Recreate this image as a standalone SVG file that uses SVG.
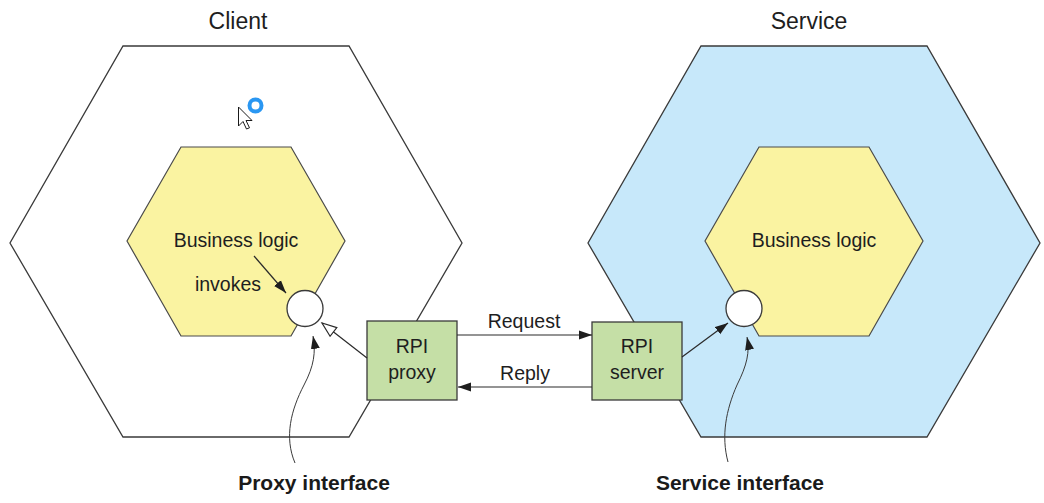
<svg xmlns="http://www.w3.org/2000/svg" width="1044" height="503" viewBox="0 0 1044 503">
  <style>
    .hex { stroke: #3a3a3a; stroke-width: 1.3; stroke-linejoin: miter; }
    .outer-client { fill: #ffffff; }
    .outer-service { fill: #c7e8fa; }
    .core { fill: #faf3a1; stroke: #4a4a4a; stroke-width: 1.2; }
    .port { fill: #ffffff; stroke: #3a3a3a; stroke-width: 1.3; }
    .box { fill: #c5dfa6; stroke: #3a3a3a; stroke-width: 1.3; }
    .lbl { font-family: "Liberation Sans", Arial, sans-serif; font-size: 19.5px; fill: #1e1e1e; text-anchor: middle; }
    .title { font-family: "Liberation Sans", Arial, sans-serif; font-size: 23px; fill: #1e1e1e; text-anchor: middle; }
    .callout { font-family: "Liberation Sans", Arial, sans-serif; font-size: 21px; font-weight: bold; fill: #1a1a1a; text-anchor: middle; }
    .conn { fill: none; stroke: #2a2a2a; stroke-width: 1.2; }
    .thin { fill: none; stroke: #3a3a3a; stroke-width: 1; }
  </style>
  <defs>
    <marker id="arrow" markerUnits="userSpaceOnUse" markerWidth="14" markerHeight="10" refX="13" refY="5" orient="auto">
      <path d="M0,0.5 L13,5 L0,9.5 z" fill="#1e1e1e"/>
    </marker>
    <marker id="open" markerUnits="userSpaceOnUse" markerWidth="17" markerHeight="14" refX="15.5" refY="7" orient="auto">
      <path d="M1,1.5 L15.5,7 L1,12.5 z" fill="#ffffff" stroke="#2a2a2a" stroke-width="1.2"/>
    </marker>
  </defs>

  <rect width="1044" height="503" fill="#ffffff"/>

  <g id="client">
    <polygon class="hex outer-client" points="123,46 349,46 462,243 349,437 123,437 10,243"/>
    <text class="title" x="238" y="29">Client</text>
  </g>

  <g id="service">
    <polygon class="hex outer-service" points="701,46 927,46 1040,243 927,437 701,437 588,243"/>
    <text class="title" x="809" y="29">Service</text>
  </g>

  <g id="client-business-logic">
    <polygon class="core" points="181,147 291,147 345,241 291,336 181,336 127,241"/>
    <text class="lbl" x="236" y="247">Business logic</text>
    <text class="lbl" x="228" y="291">invokes</text>
  </g>

  <g id="service-business-logic">
    <polygon class="core" points="759,147 869,147 923,241 869,336 759,336 705,241"/>
    <text class="lbl" x="814" y="247">Business logic</text>
  </g>

  <g id="proxy-interface-port">
    <circle class="port" cx="305" cy="308.5" r="18"/>
  </g>

  <g id="service-interface-port">
    <circle class="port" cx="744" cy="308.5" r="18"/>
  </g>

  <g id="rpi-proxy">
    <rect class="box" x="367" y="321" width="90" height="79"/>
    <text class="lbl" x="412" y="353">RPI</text>
    <text class="lbl" x="412" y="379">proxy</text>
  </g>

  <g id="rpi-server">
    <rect class="box" x="592" y="322" width="90" height="78"/>
    <text class="lbl" x="637" y="353">RPI</text>
    <text class="lbl" x="637" y="379">server</text>
  </g>

  <g id="connectors">
    <line class="conn" x1="457" y1="335" x2="592" y2="335" marker-end="url(#arrow)"/>
    <text class="lbl" x="524" y="328">Request</text>
    <line class="conn" x1="592" y1="387" x2="458" y2="387" marker-end="url(#arrow)"/>
    <text class="lbl" x="525" y="380">Reply</text>
    <line class="conn" x1="367" y1="358" x2="322" y2="323" marker-end="url(#open)"/>
    <line class="conn" x1="682" y1="357" x2="728" y2="323" marker-end="url(#arrow)"/>
    <line class="conn" x1="254" y1="256" x2="286" y2="293" marker-end="url(#arrow)"/>
    <path class="thin" d="M295,463 C284,437 291,410 304,385 C314,366 316,352 313,336" marker-end="url(#arrow)"/>
    <path class="thin" d="M728,462 C721,436 726,410 737,385 C747,365 750,352 747,337" marker-end="url(#arrow)"/>
  </g>

  <g id="callouts">
    <text class="callout" x="314" y="490">Proxy interface</text>
    <text class="callout" x="740" y="490">Service interface</text>
  </g>

  <g id="cursor">
    <path d="M238.5,107 L238.5,126 L243,121.5 L246.5,129 L249.5,127.8 L246,120.5 L252,120.5 z" fill="#ffffff" stroke="#1a1a1a" stroke-width="1" stroke-linejoin="round"/>
    <circle cx="255.5" cy="105.5" r="6" fill="none" stroke="#2a97f2" stroke-width="4"/>
  </g>
</svg>
